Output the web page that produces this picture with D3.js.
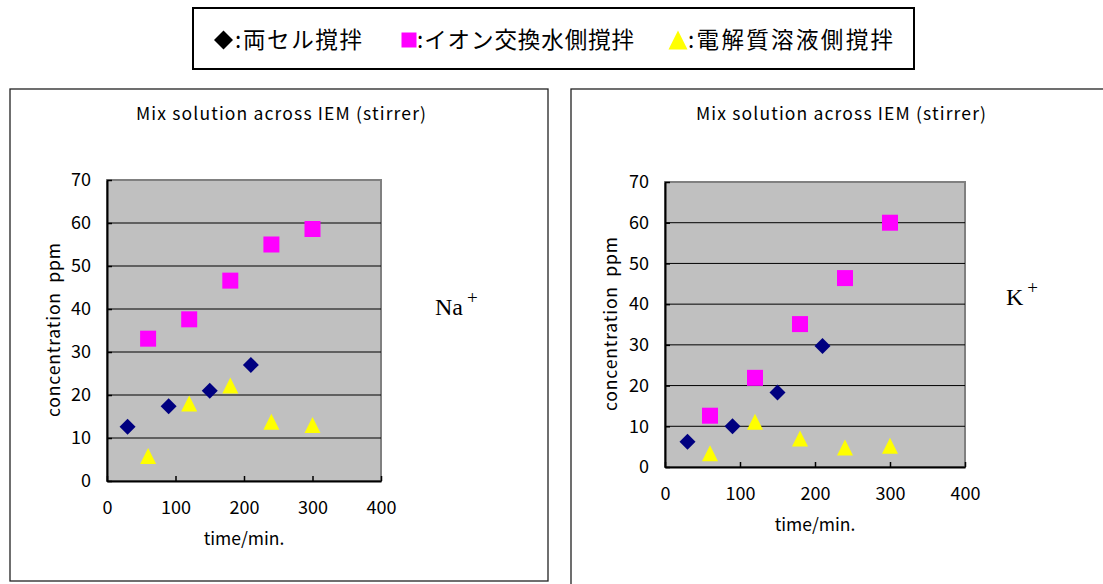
<!DOCTYPE html>
<html>
<head>
<meta charset="utf-8">
<script src="https://cdn.jsdelivr.net/npm/d3@7"></script>
<style>
  body { margin: 0; background: #fff; }
  svg { display: block; }
</style>
</head>
<body>
<svg id="chart" width="1103" height="584"></svg>
<script>
// data
const xTicks = [0, 100, 200, 300, 400];
const yTicks = [0, 10, 20, 30, 40, 50, 60, 70];

const bothTimes = [30, 90, 150, 210];
const sideTimes = [60, 120, 180, 240, 300];

const naBoth = [12.6, 17.4, 21.0, 27.0];
const naWater = [33.1, 37.6, 46.6, 55.0, 58.6];
const naElec = [5.8, 18.0, 22.2, 13.8, 13.0];

const kBoth = [6.2, 10.0, 18.3, 29.7];
const kWater = [12.6, 21.9, 35.1, 46.4, 60.0];
const kElec = [3.4, 11.1, 7.0, 4.8, 5.2];

const legendLabels = ['両セル撹拌', 'イオン交換水側撹拌', '電解質溶液側撹拌'];
const chartTitle = 'Mix solution across IEM (stirrer)';

const colors = { both: '#000080', water: '#ff00ff', elec: '#ffff00' };
const sans = '"Noto Sans CJK JP", "Noto Sans", sans-serif';

const svg = d3.select('#chart');

// marker shapes, bbox centred on the point
const diamond = s => `M0,${-s/2}L${s/2},0L0,${s/2}L${-s/2},0Z`;
const square = s => `M${-s/2},${-s/2}h${s}v${s}h${-s}Z`;
const triangle = s => `M0,${-s/2}L${s/2},${s/2}L${-s/2},${s/2}Z`;

// ---- legend ----
svg.append('rect')
  .attr('x', 193).attr('y', 8).attr('width', 721).attr('height', 61)
  .attr('fill', '#fff').attr('stroke', '#000').attr('stroke-width', 2);

const legendItems = [
  { mx: 223.5, sym: diamond, size: 19, fill: '#000', tx: 235, w: 127, label: legendLabels[0] },
  { mx: 409, sym: square, size: 15, fill: colors.water, tx: 417, w: 217, label: legendLabels[1] },
  { mx: 678, sym: triangle, size: 19, fill: colors.elec, tx: 688, w: 205, label: legendLabels[2] }
];
legendItems.forEach(d => {
  svg.append('path')
    .attr('transform', `translate(${d.mx},40)`)
    .attr('d', d.sym(d.size))
    .attr('fill', d.fill);
  svg.append('text')
    .attr('x', d.tx).attr('y', 40)
    .attr('dy', '0.36em')
    .attr('font-family', sans).attr('font-size', 22.5)
    .attr('textLength', d.w).attr('lengthAdjust', 'spacing')
    .attr('fill', '#000')
    .text(':' + d.label);
});

// ---- one panel ----
function drawPanel(cfg) {
  const g = svg.append('g');

  g.append('rect')
    .attr('x', cfg.box[0]).attr('y', cfg.box[1])
    .attr('width', cfg.box[2]).attr('height', cfg.box[3])
    .attr('fill', '#fff').attr('stroke', '#222').attr('stroke-width', 1.3);

  const x = d3.scaleLinear().domain([0, 400]).range([cfg.left, cfg.right]);
  const y = d3.scaleLinear().domain([0, 70]).range([cfg.bottom, cfg.top]);

  g.append('text')
    .attr('x', cfg.titleX - 145).attr('y', 114).attr('dy', '0.36em')
    .attr('font-family', sans).attr('font-size', 17.5)
    .attr('textLength', 290).attr('lengthAdjust', 'spacing')
    .text(chartTitle);

  // plot area
  g.append('rect')
    .attr('x', cfg.left).attr('y', cfg.top)
    .attr('width', cfg.right - cfg.left).attr('height', cfg.bottom - cfg.top)
    .attr('fill', '#c0c0c0').attr('stroke', '#808080').attr('stroke-width', 2);

  // gridlines
  g.append('g')
    .selectAll('line')
    .data(yTicks.filter(v => v > 0 && v < 70))
    .join('line')
    .attr('x1', cfg.left).attr('x2', cfg.right)
    .attr('y1', d => y(d)).attr('y2', d => y(d))
    .attr('stroke', '#000').attr('stroke-width', 1);

  // axes with inner ticks
  const yAxis = g.append('g')
    .attr('transform', `translate(${cfg.left},0)`)
    .call(d3.axisLeft(y).tickValues(yTicks).tickSize(-5).tickPadding(16).tickSizeOuter(0));
  const xAxis = g.append('g')
    .attr('transform', `translate(0,${cfg.bottom})`)
    .call(d3.axisBottom(x).tickValues(xTicks).tickSize(-5).tickPadding(20).tickSizeOuter(0));
  [yAxis, xAxis].forEach(a => {
    a.select('.domain').attr('stroke', '#000').attr('stroke-width', 2);
    a.selectAll('.tick line').attr('stroke', '#000').attr('stroke-width', 1.5);
    a.selectAll('.tick text')
      .attr('font-family', sans).attr('font-size', 18).attr('fill', '#000');
  });

  // axis titles
  g.append('text')
    .attr('x', cfg.xTitle[0]).attr('y', cfg.xTitle[1]).attr('dy', '0.36em')
    .attr('text-anchor', 'middle')
    .attr('font-family', sans).attr('font-size', 17.5)
    .text('time/min.');
  g.append('text')
    .attr('transform', `translate(${cfg.yTitle[0]},${cfg.yTitle[1] + 87}) rotate(-90)`)
    .attr('dy', '0.36em')
    .attr('font-family', sans).attr('font-size', 17.5)
    .attr('textLength', 174).attr('lengthAdjust', 'spacing')
    .text('concentration\u00a0\u00a0ppm');

  // series
  const series = [
    { xs: sideTimes, ys: cfg.elec, sym: triangle, size: 16, fill: colors.elec },
    { xs: bothTimes, ys: cfg.both, sym: diamond, size: 16, fill: colors.both },
    { xs: sideTimes, ys: cfg.water, sym: square, size: 16, fill: colors.water }
  ];
  series.forEach(s => {
    g.append('g')
      .selectAll('path')
      .data(s.ys.map((v, i) => [s.xs[i], v]))
      .join('path')
      .attr('transform', d => `translate(${x(d[0])},${y(d[1])})`)
      .attr('d', s.sym(s.size))
      .attr('fill', s.fill);
  });

  // ion label
  const ion = g.append('text')
    .attr('x', cfg.ion[0]).attr('y', cfg.ion[1])
    .attr('font-family', '"Liberation Serif", "Times New Roman", serif')
    .attr('font-size', 24).attr('fill', '#000');
  ion.append('tspan').text(cfg.ionName);
  ion.append('tspan')
    .attr('dx', 4).attr('dy', -11)
    .attr('font-size', 19).attr('font-weight', 300)
    .text('+');
}

drawPanel({
  box: [10, 89, 538, 492],
  left: 107, right: 381, top: 180, bottom: 481,
  titleX: 281,
  xTitle: [244, 539], yTitle: [54, 330],
  ion: [435, 315], ionName: 'Na',
  both: naBoth, water: naWater, elec: naElec
});

drawPanel({
  box: [571, 89, 560, 520],
  left: 665, right: 965, top: 182, bottom: 467,
  titleX: 841,
  xTitle: [815, 525], yTitle: [611, 324],
  ion: [1006, 305], ionName: 'K',
  both: kBoth, water: kWater, elec: kElec
});
</script>
</body>
</html>
